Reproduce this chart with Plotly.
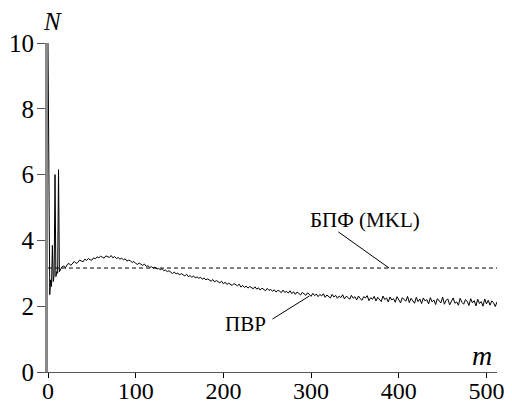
import plotly.graph_objects as go

# ---- data ----
m_start = list(range(0, 14))
n_start = [10.0, 3.7, 2.35, 2.8, 2.6, 3.85, 2.75, 2.95, 6.0, 2.9, 3.05, 3.0, 6.15, 3.05]

m_main = list(range(14, 513, 2))
n_main = [
    3.10, 3.20, 3.22, 3.17, 3.27, 3.30, 3.24, 3.31, 3.36, 3.30,
    3.33, 3.40, 3.37, 3.35, 3.43, 3.39, 3.45, 3.41, 3.40, 3.47,
    3.44, 3.50, 3.47, 3.52, 3.49, 3.46, 3.53, 3.50, 3.48, 3.54,
    3.47, 3.51, 3.45, 3.48, 3.43, 3.46, 3.41, 3.44, 3.37, 3.40,
    3.38, 3.33, 3.36, 3.30, 3.27, 3.31, 3.26, 3.24, 3.28, 3.21,
    3.23, 3.18, 3.20, 3.16, 3.19, 3.13, 3.15, 3.11, 3.14, 3.08,
    3.10, 3.05, 3.08, 3.03, 2.99, 3.04, 2.98, 3.01, 2.95, 2.99,
    2.96, 2.92, 2.97, 2.90, 2.93, 2.88, 2.92, 2.86, 2.89, 2.85,
    2.88, 2.82, 2.86, 2.80, 2.83, 2.79, 2.76, 2.81, 2.74, 2.78,
    2.75, 2.71, 2.76, 2.68, 2.73, 2.66, 2.70, 2.67, 2.63, 2.69,
    2.64, 2.62, 2.67, 2.58, 2.63, 2.57, 2.61, 2.55, 2.60, 2.57,
    2.53, 2.59, 2.52, 2.56, 2.49, 2.55, 2.50, 2.47, 2.54, 2.48,
    2.51, 2.45, 2.50, 2.43, 2.48, 2.46, 2.41, 2.49, 2.42, 2.45,
    2.40, 2.47, 2.38, 2.44, 2.36, 2.43, 2.39, 2.34, 2.42, 2.37,
    2.33, 2.41, 2.35, 2.30, 2.39, 2.32, 2.37, 2.29, 2.36, 2.31,
    2.38, 2.27, 2.34, 2.30, 2.25, 2.36, 2.28, 2.33, 2.24, 2.31,
    2.26, 2.35, 2.22, 2.30, 2.27, 2.21, 2.33, 2.24, 2.29, 2.19,
    2.31, 2.23, 2.18, 2.29, 2.25, 2.32, 2.17, 2.26, 2.21, 2.30,
    2.16, 2.27, 2.22, 2.14, 2.31, 2.20, 2.25, 2.13, 2.28, 2.19,
    2.23, 2.12, 2.29, 2.17, 2.10, 2.26, 2.21, 2.15, 2.30, 2.11,
    2.24, 2.18, 2.09, 2.27, 2.14, 2.22, 2.08, 2.25, 2.16, 2.20,
    2.07, 2.26, 2.13, 2.19, 2.05, 2.23, 2.15, 2.10, 2.28, 2.06,
    2.18, 2.22, 2.04, 2.16, 2.25, 2.09, 2.13, 2.03, 2.24, 2.12,
    2.06, 2.20, 2.15, 2.02, 2.23, 2.10, 2.17, 2.01, 2.21, 2.08,
    2.14, 2.00, 2.22, 2.07, 2.18, 2.03, 2.16, 2.11, 1.99, 2.13,
]

m_pvr = m_start + m_main
n_pvr = n_start + n_main

fft_level = 3.16
m_fft = [0, 512]
n_fft = [fft_level, fft_level]

x_ticks = [0, 100, 200, 300, 400, 500]
y_ticks = [0, 2, 4, 6, 8, 10]

label_fft = "БПФ (MKL)"
label_pvr = "ПВР"

FONT = "Liberation Serif"

fig = go.Figure()
fig.add_trace(go.Scatter(x=m_fft, y=n_fft, mode="lines",
                         line=dict(color="black", width=1, dash="4px,3px"),
                         hoverinfo="skip"))
fig.add_trace(go.Scatter(x=m_pvr, y=n_pvr, mode="lines",
                         line=dict(color="black", width=1),
                         hoverinfo="skip"))

# leader lines
fig.add_shape(type="line", xref="x", yref="y", x0=331, y0=4.26, x1=389, y1=fft_level,
              line=dict(color="black", width=1))
fig.add_shape(type="line", xref="x", yref="y", x0=256, y0=1.61, x1=298, y1=2.31,
              line=dict(color="black", width=1))

fig.add_annotation(x=361, y=4.62, xref="x", yref="y", text=label_fft, showarrow=False,
                   font=dict(family=FONT, size=21, color="black"))
fig.add_annotation(x=225, y=1.46, xref="x", yref="y", text=label_pvr, showarrow=False,
                   font=dict(family=FONT, size=21, color="black"))

# axis titles
fig.add_annotation(x=0, y=1, xref="paper", yref="paper", xanchor="center", yanchor="middle",
                   xshift=4, yshift=22, text="<i>N</i>", showarrow=False,
                   font=dict(family=FONT, size=25, color="black"))
fig.add_annotation(x=1, y=0, xref="paper", yref="paper", xanchor="center", yanchor="middle",
                   xshift=-15, yshift=17, text="<i>m</i>", showarrow=False,
                   font=dict(family=FONT, size=28, color="black"))

# page body has an 8px margin, so the figure is sized 8px smaller and shifted
fig.update_layout(
    width=504, height=395,
    margin=dict(l=40, r=15, t=35, b=31, autoexpand=False),
    paper_bgcolor="white", plot_bgcolor="white",
    showlegend=False,
    font=dict(family=FONT, size=25, color="black"),
    xaxis=dict(range=[0, 512], tickvals=x_ticks, ticks="outside", ticklen=5,
               tickcolor="black", showgrid=False, zeroline=False, automargin=False,
               showline=True, linecolor="#555", linewidth=1, ticklabelstandoff=-8,
               tickfont=dict(family=FONT, size=24, color="black")),
    yaxis=dict(range=[0, 10], tickvals=y_ticks, ticks="outside", ticklen=8,
               tickcolor="#555", showgrid=False, zeroline=False, automargin=False,
               showline=True, linecolor="#888", linewidth=3, ticklabelstandoff=-2,
               tickfont=dict(family=FONT, size=25, color="black")),
)

fig.write_html("out.html")
